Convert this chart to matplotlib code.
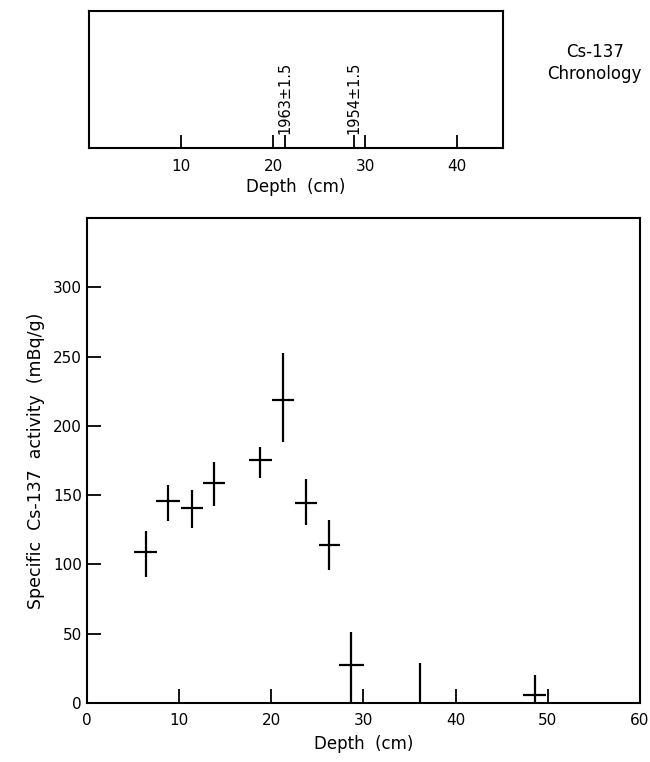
import matplotlib
matplotlib.use('Agg')
import numpy as np
import matplotlib.pyplot as plt

# Cs-137 activity profile
depth = [6.4, 8.8, 11.4, 13.8, 18.8, 21.3, 23.8, 26.3, 28.7, 48.6]
depth_err = [1.25, 1.3, 1.2, 1.2, 1.25, 1.2, 1.2, 1.15, 1.35, 1.25]
activity = [109, 145.6, 141, 158.8, 175.4, 218.4, 144.4, 114.2, 27.3, 6]
activity_err_low = [18, 14.6, 15, 16.4, 13, 30.2, 16.2, 18.5, 27.3, 6]
activity_err_high = [15, 11.4, 12.5, 15, 9.2, 34.5, 17.3, 18.1, 23.7, 14.2]

# sample with only an upper value (no horizontal bar)
limit_depth = [36.1]
limit_value = [28.7]

# chronology markers
date_depths = [21.3, 28.8]
date_labels = ['1963\u00b11.5', '1954\u00b11.5']

x_ticks = [0, 10, 20, 30, 40, 50, 60]
y_ticks = [0, 50, 100, 150, 200, 250, 300]
top_ticks = [10, 20, 30, 40]

plt.rcParams['font.family'] = 'DejaVu Sans'
plt.rcParams['font.size'] = 11


def style_axes(ax):
    for spine in ax.spines.values():
        spine.set_linewidth(1.5)
    ax.tick_params(direction='in', length=10, width=1.3, labelsize=11)


def main():
    fig = plt.figure(figsize=(6.5, 7.62), dpi=100)

    # top panel: chronology
    ax_top = fig.add_axes([0.1369, 0.8058, 0.637, 0.1798])
    style_axes(ax_top)
    ax_top.set_xlim(0, 45)
    ax_top.set_ylim(0, 1)
    ax_top.set_yticks([])
    ax_top.set_xticks(top_ticks)
    ax_top.set_xticks(date_depths, minor=True)
    ax_top.tick_params(which='both', axis='x', direction='in', length=9.5, width=1.3, pad=8)
    ax_top.set_xlabel('Depth  (cm)', fontsize=12, labelpad=3)
    for d, lab in zip(date_depths, date_labels):
        ax_top.annotate(lab, xy=(d, 0), xycoords=('data', 'axes fraction'),
                        xytext=(0, 10), textcoords='offset points',
                        rotation=90, ha='center', va='bottom', fontsize=10.5)
    fig.text(0.915, 0.917, 'Cs-137\nChronology', ha='center', va='center',
             fontsize=12, linespacing=1.25)

    # bottom panel: activity profile
    ax = fig.add_axes([0.1338, 0.0774, 0.8508, 0.6365])
    style_axes(ax)
    ax.errorbar(depth, activity, xerr=depth_err,
                yerr=[activity_err_low, activity_err_high],
                fmt='none', ecolor='black', elinewidth=1.6, capsize=0)
    ax.vlines(limit_depth, 0, limit_value, color='black', linewidth=1.6)
    ax.set_xlim(0, 60)
    ax.set_ylim(0, 350)
    ax.set_xticks(x_ticks)
    ax.set_yticks(y_ticks)
    ax.tick_params(axis='x', pad=7)
    ax.set_xlabel('Depth  (cm)', fontsize=12, labelpad=5)
    ax.set_ylabel('Specific  Cs-137  activity  (mBq/g)', fontsize=12.5, labelpad=6)

    fig.savefig('out.png', dpi=100)


if __name__ == '__main__':
    main()
